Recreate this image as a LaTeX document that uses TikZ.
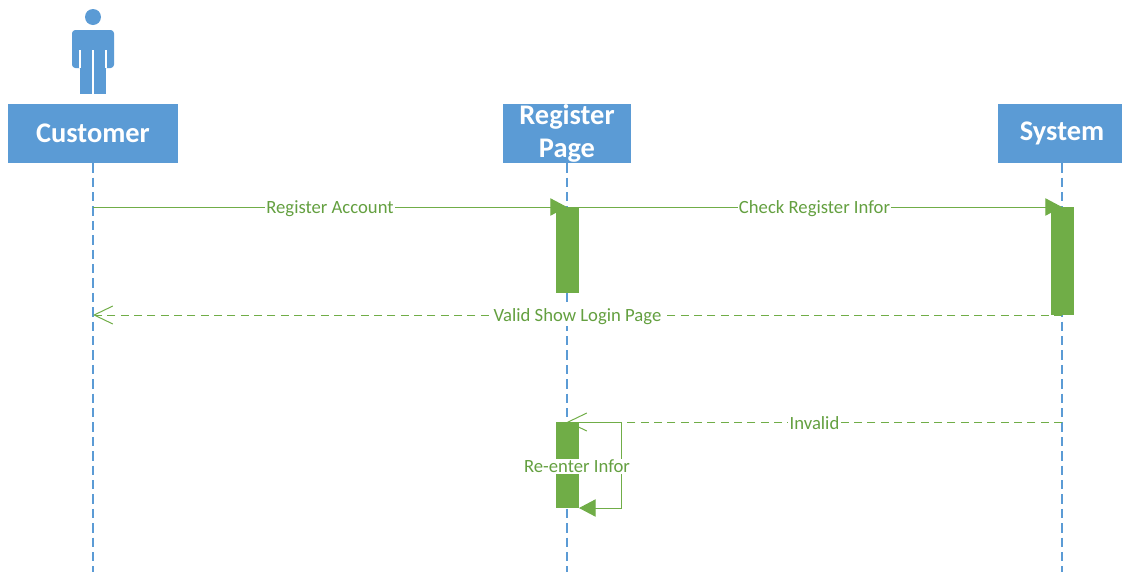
\documentclass[tikz,border=0pt]{standalone}
\usepackage{fontspec}
\setmainfont{Carlito}
\usetikzlibrary{arrows.meta}
\definecolor{hdrblue}{HTML}{5B9BD5}
\definecolor{actgreen}{HTML}{70AD47}
\definecolor{txtgreen}{HTML}{64A040}
\begin{document}
\begin{tikzpicture}[x=0.75pt,y=-0.75pt,
  header/.style={fill=hdrblue, draw=none, text=white, inner sep=0pt,
    font=\fontsize{21.3}{24.75}\selectfont\bfseries, align=center, minimum height=44.25pt},
  lifeline/.style={draw=hdrblue, line width=0.8pt, dash pattern=on 7pt off 3.8pt},
  actbar/.style={fill=actgreen, draw=none, inner sep=0pt, minimum width=17.25pt},
  msg/.style={draw=actgreen, line width=0.75pt},
  reply/.style={draw=actgreen, line width=0.75pt, dash pattern=on 6pt off 4pt},
  filledtip/.style={-{Triangle[length=12.5pt,width=13pt]}},
  opentip/.style={-{Straight Barb[length=14pt,width=13.5pt,line width=0.75pt]}},
  msglabel/.style={fill=white, text=txtgreen, inner sep=1pt, yshift=-1pt, font=\fontsize{14}{17}\selectfont}]
\useasboundingbox (0,0) rectangle (1122,572);

% actor figure
\fill[hdrblue] (93,17) circle[radius=6pt];
\fill[hdrblue, rounded corners=2.5pt] (72,68) -- (72,30) -- (114,30) -- (114,68) -- cycle;
\fill[hdrblue] (80,60) rectangle (106,94);
\draw[white, line width=0.8pt] (80,50) -- (80,68) (106,50) -- (106,68) (93,50) -- (93,94.5);

% headers
\node[header, minimum width=127.5pt] (cust) at (93,133.5) {Customer};
\node[header, minimum width=96pt] (reg) at (567,133.5) {Register\\Page};
\node[header, minimum width=96pt] (sys) at (1062,133.5) {System};

% lifeline ends
\coordinate (custEnd) at (93,572);
\coordinate (regEnd) at (567,572);
\coordinate (sysEnd) at (1062,572);
\draw[lifeline] (cust.south) -- (custEnd);
\draw[lifeline] (reg.south) -- (regEnd);
\draw[lifeline] (sys.south) -- (sysEnd);

% message anchor points
\coordinate (m1s) at (93,207);
\coordinate (m1e) at (567,207);
\coordinate (m2e) at (1062,207);
\coordinate (m3s) at (1062,315);
\coordinate (m3e) at (93,315);
\coordinate (m4s) at (1062,422);
\coordinate (m4e) at (567,422);
\coordinate (loopA) at (579,422);
\coordinate (loopB) at (621,422);
\coordinate (loopC) at (621,508);
\coordinate (loopD) at (579,508);

% activation bars
\node[actbar, minimum height=64.5pt] (act1) at (567.5,250) {};
\node[actbar, minimum height=81pt] (act2) at (1062.5,261) {};
\node[actbar, minimum height=64.5pt] (act3) at (567.5,465) {};

% messages
\draw[msg, filledtip] (m1s) -- node[msglabel] {Register Account} (m1e);
\draw[msg, filledtip] (m1e) -- node[msglabel] {Check Register Infor} (m2e);
\draw[reply, opentip] (m3s) -- node[msglabel] {Valid Show Login Page} (m3e);
\draw[reply, opentip] (m4s) -- node[msglabel] {Invalid} (m4e);
\draw[msg] (loopA) -- (loopB);
\draw[msg, filledtip] (loopB) -- (loopC) -- (loopD);
\node[msglabel] (reenter) at (577,465) {Re-enter Infor};
\end{tikzpicture}
\end{document}
